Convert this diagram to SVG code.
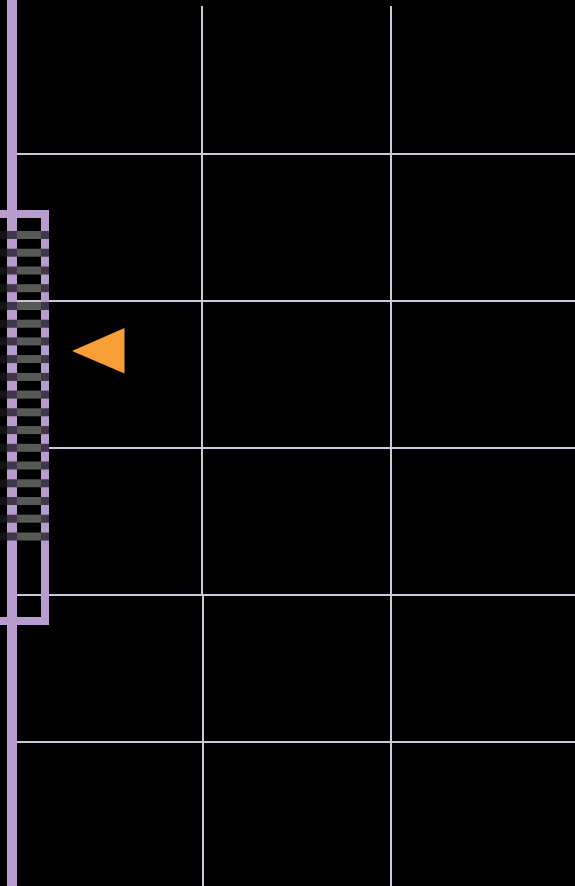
<svg xmlns="http://www.w3.org/2000/svg" width="575" height="886" viewBox="0 0 575 886">
<style>
.grid{stroke:#cfc6dc;stroke-width:2;fill:none}
.silk{stroke:#b99ccf;fill:none}
.pl{fill:#141414}
.pb{fill:#41374a}
.pm{fill:#585855}
</style>
<defs>
<g id="pad">
<rect class="pl" x="0" y="-4" width="7" height="8"/>
<rect class="pb" x="7" y="-4" width="10" height="8"/>
<rect class="pm" x="17" y="-4" width="24" height="8"/>
<rect class="pb" x="41" y="-4" width="8" height="8"/>
</g>
</defs>
<rect width="575" height="886" fill="#000"/>
<g id="grid">
<line class="grid" x1="202" y1="6" x2="202" y2="595"/>
<line class="grid" x1="203" y1="595" x2="203" y2="886"/>
<line class="grid" x1="391" y1="6" x2="391" y2="886"/>
<line class="grid" x1="17" y1="154" x2="575" y2="154"/>
<line class="grid" x1="17" y1="301" x2="575" y2="301"/>
<line class="grid" x1="17" y1="448" x2="575" y2="448"/>
<line class="grid" x1="17" y1="595" x2="575" y2="595"/>
<line class="grid" x1="17" y1="742" x2="575" y2="742"/>
</g>
<g id="outline">
<line class="silk" x1="12" y1="0" x2="12" y2="886" stroke-width="10"/>
<rect class="silk" x="-10" y="214" width="55" height="407" stroke-width="8"/>
</g>
<g id="pads">
<use href="#pad" y="235"/>
<use href="#pad" y="252.7"/>
<use href="#pad" y="270.5"/>
<use href="#pad" y="288.2"/>
<use href="#pad" y="306"/>
<use href="#pad" y="323.7"/>
<use href="#pad" y="341.4"/>
<use href="#pad" y="359.1"/>
<use href="#pad" y="376.9"/>
<use href="#pad" y="394.6"/>
<use href="#pad" y="412.3"/>
<use href="#pad" y="430.1"/>
<use href="#pad" y="447.8"/>
<use href="#pad" y="465.5"/>
<use href="#pad" y="483.3"/>
<use href="#pad" y="501"/>
<use href="#pad" y="518.7"/>
<use href="#pad" y="536.5"/>
</g>
<g id="pin1">
<polygon points="72,351 124.5,328 124.5,373.5" fill="#f99e36"/>
</g>
</svg>
